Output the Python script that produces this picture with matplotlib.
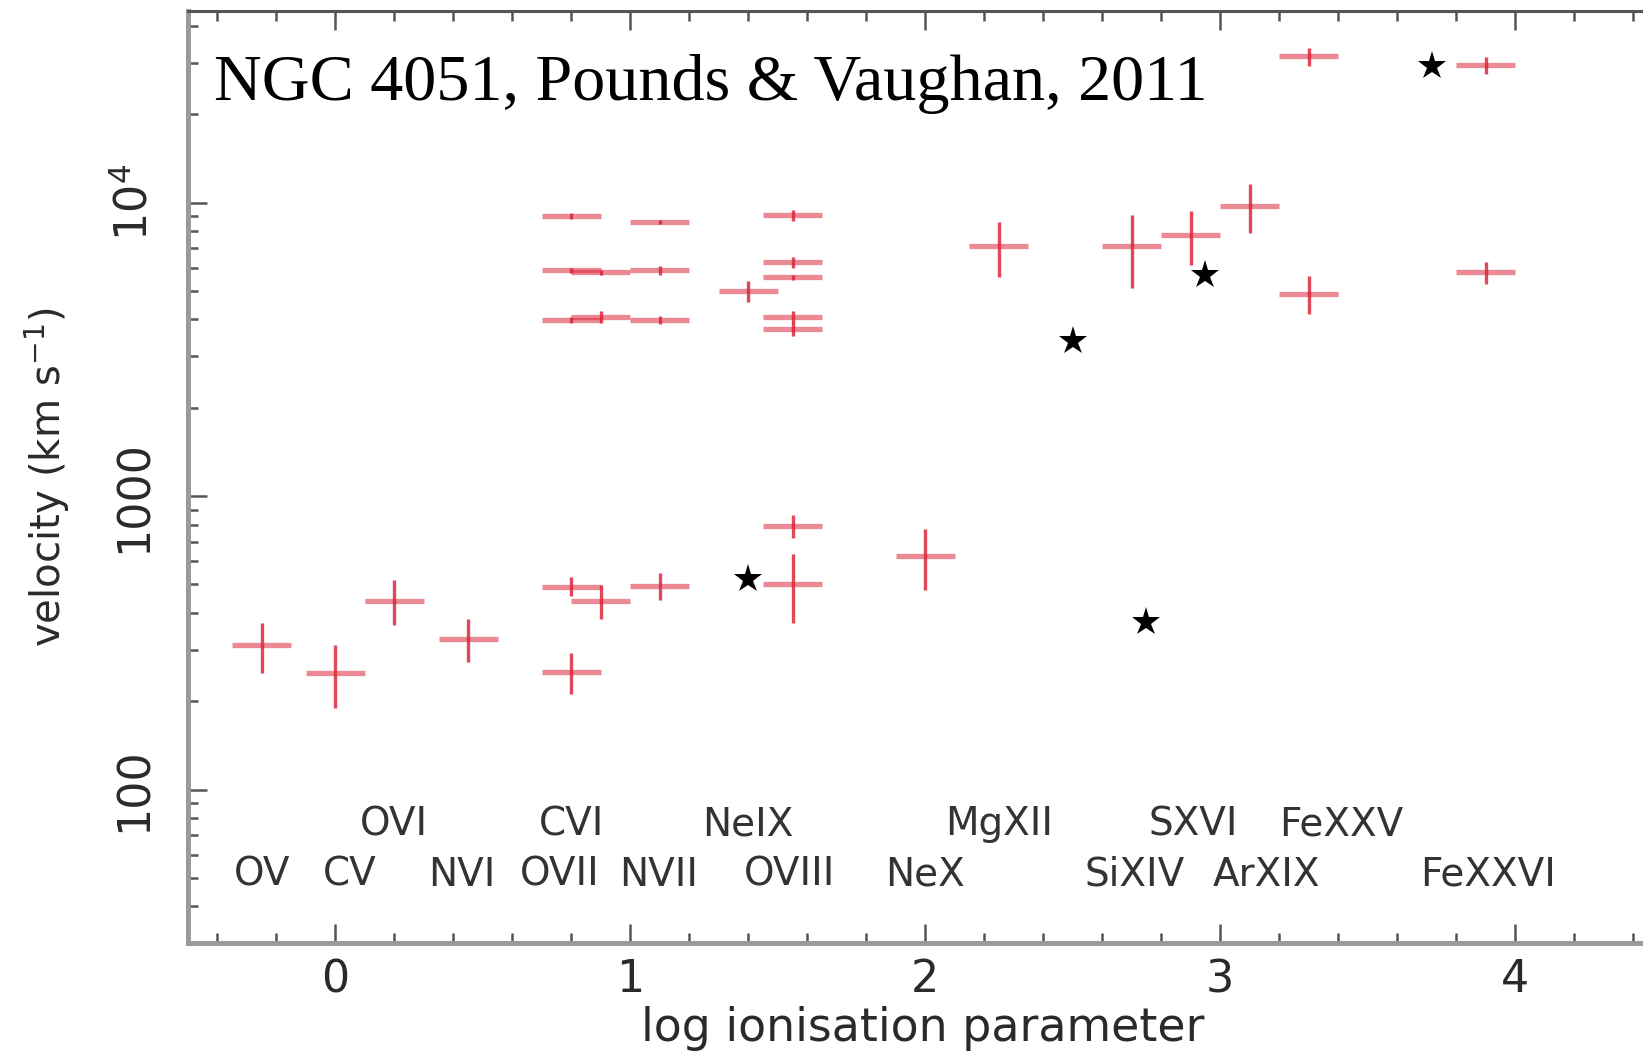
"""Outflow velocity vs log ionisation parameter for NGC 4051 absorption lines.

Red crosses: individual absorption components (x error = bin width, y error =
velocity uncertainty); black stars: additional measurements. Writes out.png.
"""

import matplotlib

matplotlib.use("Agg")
import matplotlib.pyplot as plt  # noqa: E402
from matplotlib.ticker import FixedLocator, LogLocator, MultipleLocator, NullFormatter  # noqa: E402

# --- data -----------------------------------------------------------------
cross_x = [-0.25, 0.0, 0.2, 0.45, 0.8, 0.9, 0.8, 1.1, 1.55, 1.55, 2.0,
           0.8, 0.8, 0.8, 0.9, 0.9, 1.1, 1.1, 1.1, 1.4,
           1.55, 1.55, 1.55, 1.55, 1.55,
           2.25, 2.7, 2.9, 3.1, 3.3, 3.9, 3.3, 3.9]
cross_v = [310, 250, 440, 327, 492, 438, 251, 494, 502, 790, 625,
           9000, 5890, 3990, 5790, 4090, 8600, 5890, 3990, 4990,
           9050, 6260, 5560, 4090, 3720,
           7100, 7100, 7740, 9730, 4900, 5800, 31500, 29400]
cross_verr = [60, 60, 77, 54, 37, 58, 40, 51, 132, 70, 145,
              200, 120, 100, 120, 190, 150, 200, 120, 420,
              400, 280, 100, 190, 200,
              1520, 2000, 1600, 1850, 730, 500, 2250, 2000]
cross_xerr = [0.1] * len(cross_x)

star_x = [1.4, 2.5, 2.75, 2.95, 3.72]
star_v = [520, 3370, 371, 5660, 29300]

# ion labels: upper row and lower row
ions_top = ["OVI", "CVI", "NeIX", "MgXII", "SXVI", "FeXXV"]
ions_top_x = [0.2, 0.8, 1.4, 2.25, 2.91, 3.41]
ions_bot = ["OV", "CV", "NVI", "OVII", "NVII", "OVIII", "NeX", "SiXIV", "ArXIX", "FeXXVI"]
ions_bot_x = [-0.25, 0.05, 0.43, 0.76, 1.095, 1.54, 2.0, 2.71, 3.156, 3.907]
ion_row_v = [70, 47]

yticks = [100, 1000, 10000]
yticklabels = ["100", "1000", "$10^4$"]

RED = "#dc283c"
TXT = "#2a2a2a"


def main():
    W, H = 1643, 1054
    fig = plt.figure(figsize=(W / 100, H / 100), dpi=100)
    plt.rcParams["font.family"] = ["DejaVu Sans"]
    plt.rcParams["mathtext.fontset"] = "dejavusans"

    # axes run past the right edge of the canvas (original figure is cropped)
    left, right, top, bottom = 188, 1662.5, 11, 943
    ax = fig.add_axes([left / W, 1 - bottom / H, (right - left) / W, (bottom - top) / H])

    ax.errorbar(cross_x, cross_v, xerr=cross_xerr, fmt="none", ecolor=RED,
                elinewidth=3.8, alpha=0.55, capsize=0)
    ax.errorbar(cross_x, cross_v, yerr=cross_verr, fmt="none", ecolor=RED,
                elinewidth=2.4, alpha=0.85, capsize=0)
    ax.plot(star_x, star_v, ls="none", marker="*", ms=21, color="k", mew=0)

    for names, xs, v in [(ions_top, ions_top_x, ion_row_v[0]),
                         (ions_bot, ions_bot_x, ion_row_v[1])]:
        for n, x in zip(names, xs):
            ax.text(x, v, n, ha="center", va="baseline", fontsize=28, color="#333333")

    ax.set_yscale("log")
    ax.set_xlim(-0.5, 4.5)
    ax.set_ylim(30, 45000)

    ax.xaxis.set_major_locator(MultipleLocator(1))
    ax.xaxis.set_minor_locator(MultipleLocator(0.2))
    ax.yaxis.set_major_locator(FixedLocator(yticks))
    ax.yaxis.set_minor_locator(LogLocator(base=10, subs=range(2, 10)))
    ax.yaxis.set_minor_formatter(NullFormatter())
    ax.set_yticklabels(yticklabels, rotation=90, va="center")

    ax.tick_params(which="both", direction="in", top=True, right=True,
                   color="#555555", width=1.8, labelsize=32, labelcolor=TXT)
    ax.tick_params(which="major", length=14)
    ax.tick_params(which="minor", length=7.5)
    ax.tick_params(axis="x", which="major", pad=11)
    ax.tick_params(axis="y", which="major", pad=23)

    for s in ("left", "bottom"):
        ax.spines[s].set_color("#9a9a9a")
        ax.spines[s].set_linewidth(3.6)
    for s in ("top", "right"):
        ax.spines[s].set_color("#555555")
        ax.spines[s].set_linewidth(2.2)

    ax.set_xlabel("log ionisation parameter", fontsize=33, color=TXT)
    ax.xaxis.set_label_coords(0.4985, -0.068)
    ax.set_ylabel("velocity (km s$^{-1}$)", fontsize=29, color=TXT, va="center")
    ax.yaxis.set_label_coords(-0.0956, 0.5)

    fig.text(214 / W, 1 - 100 / H, "NGC 4051, Pounds & Vaughan, 2011",
             family="Liberation Serif", fontsize=47.6, va="baseline", color="k")

    fig.savefig("out.png", dpi=100)
    plt.close(fig)


if __name__ == "__main__":
    main()
